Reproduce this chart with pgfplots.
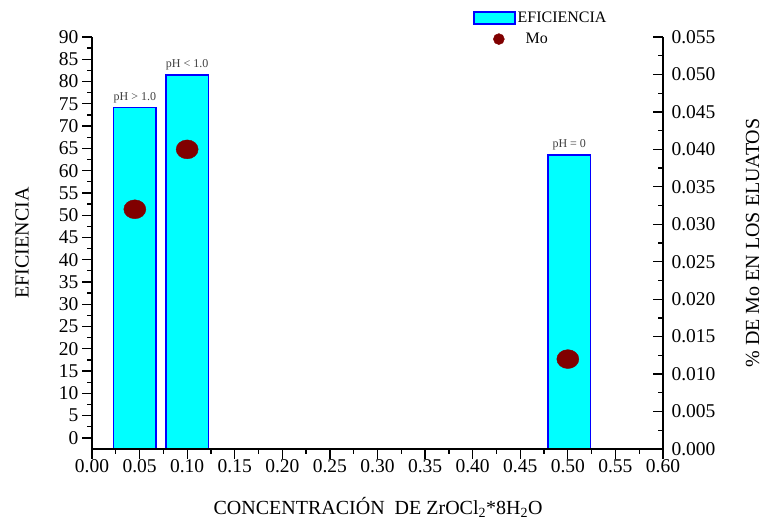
\documentclass[border=0pt]{standalone}
\usepackage{pgfplots}
\pgfplotsset{compat=1.18}
\usepackage{fontspec}
\setmainfont{Liberation Serif}
\definecolor{barfill}{RGB}{0,255,255}
\definecolor{barline}{RGB}{0,0,255}
\definecolor{mored}{RGB}{128,0,0}
\pgfplotsset{
  barlegend/.style={legend image code/.code={\draw[##1] (0pt,-6pt) rectangle (41pt,6pt);}},
  molegend/.style={legend image code/.code={\draw[##1] plot coordinates {(25pt,0pt)};}},
}
\begin{document}
\begin{tikzpicture}
\begin{axis}[
  scale only axis, width=571pt, height=412pt,
  xmin=0, xmax=0.6, ymin=-2.5, ymax=90,
  axis x line*=bottom, axis y line*=left,
  axis line style={-, line width=1.5pt},
  every tick/.style={black, line width=1.3pt},
  tick align=outside,
  major tick length=10pt, minor tick length=5pt,
  xtick={0,0.05,0.1,0.15,0.2,0.25,0.3,0.35,0.4,0.45,0.5,0.55,0.6},
  ytick={0,5,10,15,20,25,30,35,40,45,50,55,60,65,70,75,80,85,90},
  minor x tick num=1, minor y tick num=1,
  /pgf/number format/assume math mode=true,
  tick label style={font=\fontsize{19.5}{22}\selectfont},
  xticklabel style={yshift=3pt, /pgf/number format/.cd, fixed, fixed zerofill, precision=2},
  xlabel={CONCENTRACIÓN\ \ DE ZrOCl\textsubscript{2}*8H\textsubscript{2}O},
  ylabel={EFICIENCIA},
  every axis x label/.style={at={(axis description cs:0.501,-0.1408)}, anchor=center, font=\fontsize{20}{24}\selectfont},
  every axis y label/.style={at={(axis description cs:-0.1226,0.5)}, rotate=90, anchor=center, font=\fontsize{20}{24}\selectfont},
  axis on top,
]
\addplot[fill=barfill, draw=barline, line width=1.6pt] coordinates {(0.0225,-2.5) (0.0225,74.2) (0.0675,74.2) (0.0675,-2.5)} -- cycle;
\addplot[fill=barfill, draw=barline, line width=1.6pt] coordinates {(0.0775,-2.5) (0.0775,81.5) (0.1225,81.5) (0.1225,-2.5)} -- cycle;
\addplot[fill=barfill, draw=barline, line width=1.6pt] coordinates {(0.479,-2.5) (0.479,63.5) (0.524,63.5) (0.524,-2.5)} -- cycle;
\addplot[draw=none, nodes near coords, point meta=explicit symbolic,
  nodes near coords style={font=\fontsize{12}{14}\selectfont, anchor=south, yshift=1pt, text=black!75}]
  coordinates {(0.045,74.2)[pH > 1.0] (0.10,81.5)[pH < 1.0] (0.5015,63.5)[pH = 0]};
\coordinate (bl) at (rel axis cs:0,0);
\coordinate (tr) at (rel axis cs:1,1);
\end{axis}
\begin{axis}[
  scale only axis, width=571pt, height=412pt,
  xmin=0, xmax=0.6, ymin=0, ymax=0.055,
  axis x line=none, axis y line*=right,
  axis line style={-, line width=1.5pt},
  every tick/.style={black, line width=1.3pt},
  tick align=inside,
  major tick length=10pt, minor tick length=5pt,
  ytick={0,0.005,0.01,0.015,0.02,0.025,0.03,0.035,0.04,0.045,0.05,0.055},
  minor y tick num=1,
  scaled y ticks=false,
  /pgf/number format/assume math mode=true,
  tick label style={font=\fontsize{19.5}{22}\selectfont},
  yticklabel style={xshift=5pt, /pgf/number format/.cd, fixed, fixed zerofill, precision=3},
  ylabel={\% DE Mo EN LOS ELUATOS},
  every axis y label/.style={at={(axis description cs:1.157,0.5)}, rotate=90, anchor=center, font=\fontsize{20}{24}\selectfont},
  legend style={draw=none, fill=none, at={(0.667,1.066)}, anchor=north west,
    font=\fontsize{16}{19}\selectfont, row sep=5pt, cells={anchor=west}, inner sep=0pt},
]
\addlegendimage{barlegend, fill=barfill, draw=barline, line width=1.6pt}
\addlegendentry{EFICIENCIA}
\addlegendimage{molegend, only marks, mark=*, mored, mark size=5.5pt}
\addlegendentry{\ \ Mo}
\addplot[only marks, mark=*, mark size=10.5pt, color=mored, mark options={xscale=1.05, yscale=0.9}, forget plot]
  coordinates {(0.045,0.032) (0.10,0.040) (0.50,0.012)};
\end{axis}
\path ([xshift=-92pt,yshift=-69pt]bl) rectangle ([xshift=100pt,yshift=37pt]tr);
\end{tikzpicture}
\end{document}
